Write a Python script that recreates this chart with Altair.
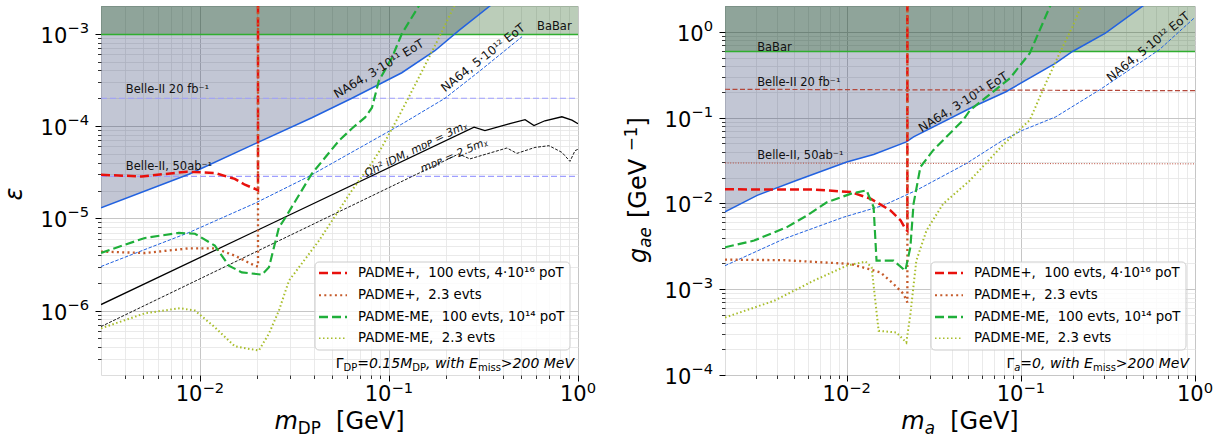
import math
import altair as alt
import pandas as pd

FONT = "DejaVu Sans"

# ===================== left panel: dark photon =====================
DP_X_DOMAIN = [0.003, 1.0]
DP_Y_DOMAIN = [2e-7, 2e-3]
DP_BABAR = 9.8e-4
DP_BELLE20 = 2.0e-4
DP_BELLE50 = 2.85e-5

DP_NA64_X = [0.003, 0.00875, 0.0195, 0.0391, 0.0637, 0.117, 0.175, 0.234, 0.342, 0.6, 1.0]
DP_NA64_Y = [1.30e-5, 3.0e-5, 6.4e-5, 1.23e-4, 2.0e-4, 3.78e-4, 6.55e-4, 1.08e-3, 2.0e-3, 5.5e-3, 1.5e-2]

DP_NA64B_X = [0.003, 0.00557, 0.00875, 0.0195, 0.0378, 0.117, 0.198, 0.30, 0.506]
DP_NA64B_Y = [3.0e-6, 4.9e-6, 7.0e-6, 1.45e-5, 2.85e-5, 1.05e-4, 2.0e-4, 3.9e-4, 9.3e-4]

DP_P100_X = [0.003, 0.00493, 0.00853, 0.012, 0.0153, 0.0173, 0.0195, 0.0203, 0.0203]
DP_P100_Y = [2.96e-5, 2.84e-5, 3.2e-5, 3.1e-5, 2.67e-5, 2.31e-5, 2.09e-5, 2.0e-5, 1e-2]

DP_P23_X = [0.003, 0.00512, 0.00875, 0.012, 0.0153, 0.0195, 0.0203, 0.0203]
DP_P23_Y = [4.35e-6, 4.2e-6, 4.72e-6, 4.72e-6, 3.94e-6, 3.06e-6, 3.0e-6, 1e-2]

DP_ME100_X = [0.003, 0.00512, 0.00774, 0.00942, 0.012, 0.01423, 0.01667, 0.0213, 0.0232,
              0.0262, 0.0282, 0.0391, 0.0544, 0.0637, 0.0748, 0.0813, 0.0885, 0.1037, 0.117, 0.146]
DP_ME100_Y = [4.21e-6, 6.12e-6, 6.94e-6, 6.8e-6, 5.05e-6, 3.06e-6, 2.59e-6, 2.45e-6, 2.94e-6,
              7.96e-6, 1.0e-5, 3.04e-5, 6.93e-5, 9.4e-5, 1.24e-4, 1.58e-4, 3.1e-4, 5.5e-4, 1.0e-3, 2.1e-3]

DP_ME23_X = [0.003, 0.00512, 0.00783, 0.00942, 0.012, 0.0153, 0.0205, 0.0232, 0.0262, 0.0296,
             0.0426, 0.0637, 0.0813, 0.0918, 0.117, 0.144, 0.184, 0.224]
DP_ME23_Y = [6.41e-7, 9.33e-7, 1.06e-6, 1.0e-6, 6.58e-7, 4.09e-7, 3.68e-7, 5.62e-7, 1.0e-6, 2.11e-6,
             5.7e-6, 2.0e-5, 4.0e-5, 5.9e-5, 1.47e-4, 3.36e-4, 9.1e-4, 2.1e-3]

DP_IDM3_X = [0.003, 0.282, 0.322, 0.436, 0.525, 0.585, 0.668, 0.822, 0.929, 1.0]
DP_IDM3_Y = [1.16e-6, 9.7e-5, 8.9e-5, 1.06e-4, 1.17e-4, 1.01e-4, 1.14e-4, 1.26e-4, 1.16e-4, 1.06e-4]

DP_IDM25_X = [0.003, 0.234, 0.268, 0.421, 0.475, 0.592, 0.702, 0.822, 0.907, 0.964, 1.0]
DP_IDM25_Y = [6.7e-7, 4.98e-5, 4.40e-5, 5.78e-5, 5.05e-5, 5.86e-5, 6.12e-5, 5.18e-5, 4.14e-5, 5.4e-5, 5.6e-5]

# ===================== right panel: ALP =====================
A_X_DOMAIN = [0.002, 1.0]
A_Y_DOMAIN = [1e-4, 2.0]
A_BABAR = 0.59
A_BELLE20_Y = [0.214, 0.206]
A_BELLE50_Y = [0.0296, 0.0289]

A_NA64_X = [0.002, 0.00306, 0.00518, 0.01, 0.01427, 0.0220, 0.0242, 0.0532, 0.0821, 0.1585, 0.198, 0.306, 0.498, 1.0]
A_NA64_Y = [0.0080, 0.0124, 0.0186, 0.0304, 0.0371, 0.0521, 0.0597, 0.1337, 0.2003, 0.431, 0.59, 0.965, 1.98, 5.0]

A_NA64B_X = [0.002, 0.00436, 0.00961, 0.01625, 0.0251, 0.0485, 0.0789, 0.1027, 0.1585, 0.2826, 0.622, 0.99]
A_NA64B_Y = [0.00188, 0.00386, 0.00692, 0.00948, 0.0142, 0.0291, 0.0546, 0.0714, 0.102, 0.21, 0.616, 1.45]

A_P100_X = [0.002, 0.00648, 0.01054, 0.0137, 0.01783, 0.0204, 0.0217, 0.0223, 0.0223]
A_P100_Y = [0.0146, 0.0145, 0.01355, 0.01135, 0.00828, 0.00633, 0.00506, 0.0048, 5.0]

A_P23_X = [0.002, 0.00436, 0.01054, 0.01563, 0.01858, 0.0212, 0.0223, 0.0223]
A_P23_Y = [0.00221, 0.00218, 0.00197, 0.00157, 0.00115, 8.8e-4, 7.0e-4, 5.0]

A_ME100_X = [0.002, 0.00294, 0.00454, 0.0059, 0.00769, 0.0106, 0.0130, 0.01427, 0.01483, 0.01858,
             0.0217, 0.0232, 0.0242, 0.0265, 0.0314, 0.0358, 0.0466, 0.0511, 0.0865, 0.1125, 0.1284, 0.1484]
A_ME100_Y = [0.00308, 0.00369, 0.0053, 0.0072, 0.0103, 0.0130, 0.0142, 0.00906, 0.00215, 0.00215,
             0.00164, 0.00308, 0.0099, 0.0266, 0.0417, 0.0546, 0.0935, 0.1224, 0.287, 0.563, 1.05, 2.07]

A_ME23_X = [0.002, 0.00383, 0.00648, 0.01, 0.01285, 0.0139, 0.01525, 0.0193, 0.0220, 0.0232, 0.0251,
            0.0287, 0.0358, 0.0511, 0.0789, 0.1125, 0.139, 0.167, 0.198, 0.226]
A_ME23_Y = [4.68e-4, 7.33e-4, 1.26e-3, 1.88e-3, 2.1e-3, 1.8e-3, 3.27e-4, 3.13e-4, 2.39e-4, 5.1e-4, 2.15e-3,
            4.83e-3, 9.9e-3, 0.0186, 0.048, 0.0935, 0.251, 0.563, 1.15, 2.16]

# ===================== legend / series names =====================
NB = "\u00a0"
S1 = "PADME+," + NB * 2 + "100 evts, 4·10¹⁶ poT"
S2 = "PADME+," + NB * 2 + "2.3 evts"
S3 = "PADME-ME," + NB * 2 + "100 evts, 10¹⁴ poT"
S4 = "PADME-ME," + NB * 2 + "2.3 evts"
SERIES = [S1, S2, S3, S4]
SERIES_COLORS = ["#e8100c", "#c55a2a", "#1faf3a", "#a8bd2a"]
SERIES_DASH = [[9, 4], [2, 3.3], [9, 4], [1.5, 2.5]]
SERIES_WIDTH = [2.5, 2.0, 2.5, 1.6]

BLUE = "#2262e0"
NA64_FILL = "#0b1a55"
BABAR_FILL = "#0a4a05"
BABAR_LINE = "#2fae2f"

# ===================== helpers =====================
LOGV = "(log(datum.value)/LN10)"
MAJOR = f"abs({LOGV} - round({LOGV})) < 1e-6"

W = {' ': .318, NB: .318, ',': .318, '.': .318, '=': .838, '>': .838, '[': .390, ']': .390,
     'G': .775, 'e': .615, 'V': .684, 'm': .974, 'D': .770, 'P': .603, 'M': .863, 'E': .632,
     'a': .613, 'i': .278, 's': .521, 'w': .818, 't': .392, 'h': .634, 'Γ': .557, '−': .838,
     'g': .635}
for d in "0123456789":
    W[d] = .636


def tw(t, s):
    return sum(W.get(c, .6) for c in t) * s


def ticks_in(lo, hi):
    out = []
    for e in range(-9, 2):
        for k in range(1, 10):
            v = k * 10.0 ** e
            if lo * 1.0001 < v < hi / 1.0001 or (k == 1 and lo * 0.9999 <= v <= hi * 1.0001):
                out.append(v)
    return out


def majors_in(lo, hi):
    return [10.0 ** e for e in range(-9, 2) if lo * 0.9999 <= 10.0 ** e <= hi * 1.0001]


def make_axis(values, orient):
    return alt.Axis(
        values=values, labels=False, orient=orient, title=None,
        grid=True,
        gridColor={"condition": {"test": MAJOR, "value": "#c6c6c6"}, "value": "#e4e4e4"},
        gridWidth={"condition": {"test": MAJOR, "value": 1.0}, "value": 0.8},
        tickColor="black",
        tickSize={"condition": {"test": MAJOR, "value": 6}, "value": 3.5},
        tickWidth={"condition": {"test": MAJOR, "value": 1.0}, "value": 0.8},
        domain=False,
    )


ONE = pd.DataFrame({"x": [1.0], "y": [1.0]})


def txt(text, size, style="normal", align="left", baseline="alphabetic", dx=0, dy=0, angle=None, color="black"):
    kw = {"angle": angle} if angle is not None else {}
    return dict(text=text, fontSize=size, fontStyle=style, font=FONT, align=align,
                baseline=baseline, dx=dx, dy=dy, color=color, **kw)


def pieces(parts, y, x_center=None, x_right=None):
    widths = [tw(t, s) for t, s, st, dy in parts]
    total = sum(widths)
    x = x_center - total / 2 if x_center is not None else x_right - total
    out = []
    for (t, s, st, dy), w in zip(parts, widths):
        out.append(alt.Chart(ONE).mark_text(**txt(t, s, st, dy=dy)).encode(x=alt.value(x), y=alt.value(y)))
        x += w
    return out


def vpieces(parts, x, y_start):
    """Text pieces rotated to read bottom-to-top, starting at y_start."""
    out = []
    y = y_start
    for (t, s, st, dy) in parts:
        out.append(alt.Chart(ONE).mark_text(**txt(t, s, st, dy=dy, angle=270))
                   .encode(x=alt.value(x), y=alt.value(y)))
        y -= tw(t, s)
    return out


def sup_of(v):
    e = int(round(math.log10(v)))
    return ("−" + str(-e)) if e < 0 else str(e)


def tick_labels(X, Y, xmaj, ymaj, H):
    out = []
    w10 = tw("10", 21)
    for v in xmaj:
        s = sup_of(v)
        tot = w10 + tw(s, 14.7)
        d = pd.DataFrame({"x": [v], "y": [1.0]})
        out.append(alt.Chart(d).mark_text(**txt("10", 21, dx=-tot / 2)).encode(x=X, y=alt.value(H + 26)))
        out.append(alt.Chart(d).mark_text(**txt(s, 14.7, dx=-tot / 2 + w10)).encode(x=X, y=alt.value(H + 18)))
    for v in ymaj:
        s = sup_of(v)
        ws = tw(s, 14.7)
        d = pd.DataFrame({"x": [1.0], "y": [v]})
        out.append(alt.Chart(d).mark_text(**txt("10", 21, align="right", dx=-12 - ws, dy=9)).encode(x=alt.value(0), y=Y))
        out.append(alt.Chart(d).mark_text(**txt(s, 14.7, align="right", dx=-12, dy=-1)).encode(x=alt.value(0), y=Y))
    return out


def legend_layers(x0, y0):
    out = [alt.Chart(ONE).mark_rect(fill="white", fillOpacity=0.8, stroke="#cccccc", strokeWidth=1,
                                    cornerRadius=4)
           .encode(x=alt.value(x0), x2=alt.value(x0 + 255), y=alt.value(y0), y2=alt.value(y0 + 88))]
    rows = [11, 33.3, 55, 76.3]
    for name, col, dash, sw, r in zip(SERIES, SERIES_COLORS, SERIES_DASH, SERIES_WIDTH, rows):
        out.append(alt.Chart(ONE).mark_rule(color=col, strokeDash=dash, strokeWidth=sw)
                   .encode(x=alt.value(x0 + 4), x2=alt.value(x0 + 32), y=alt.value(y0 + r)))
        out.append(alt.Chart(ONE).mark_text(**txt(name, 13.3, baseline="middle"))
                   .encode(x=alt.value(x0 + 43), y=alt.value(y0 + r)))
    return out


def line_df(xs, ys):
    return pd.DataFrame({"x": xs, "y": ys, "i": list(range(len(xs)))})


def panel(cfg):
    xmin, xmax = cfg["xdom"]
    ymin, ymax = cfg["ydom"]
    H = cfg["h"]
    xs = alt.Scale(type="log", domain=cfg["xdom"], nice=False)
    ys = alt.Scale(type="log", domain=cfg["ydom"], nice=False)
    X = alt.X("x:Q", scale=xs, axis=make_axis(ticks_in(xmin, xmax), "bottom"))
    Y = alt.Y("y:Q", scale=ys, axis=make_axis(ticks_in(ymin, ymax), "left"))
    top = cfg["top"]

    layers = []
    na = line_df(cfg["na64_x"], cfg["na64_y"])
    na["top"] = top
    layers.append(alt.Chart(na).mark_area(color=NA64_FILL, opacity=0.25, clip=True)
                  .encode(x=X, y=Y, y2="top:Q"))
    bb = pd.DataFrame({"x": [xmin, xmax], "y": [cfg["babar"]] * 2, "top": [top, top]})
    layers.append(alt.Chart(bb).mark_area(color=BABAR_FILL, opacity=0.28, clip=True)
                  .encode(x=X, y=Y, y2="top:Q"))
    layers.append(alt.Chart(bb).mark_line(color=BABAR_LINE, strokeWidth=1.5, clip=True)
                  .encode(x=X, y=Y))
    for (yy, col, dash, sw) in cfg["belle"]:
        d = pd.DataFrame({"x": [xmin, xmax], "y": yy})
        layers.append(alt.Chart(d).mark_line(color=col, strokeDash=dash, strokeWidth=sw, clip=True)
                      .encode(x=X, y=Y))
    layers.append(alt.Chart(na).mark_line(color=BLUE, strokeWidth=1.5, clip=True)
                  .encode(x=X, y=Y, order="i:Q"))
    layers.append(alt.Chart(line_df(cfg["na64b_x"], cfg["na64b_y"]))
                  .mark_line(color=BLUE, strokeWidth=1.0, strokeDash=[3.5, 1.6], clip=True)
                  .encode(x=X, y=Y, order="i:Q"))
    for (lx, ly, dash, sw) in cfg.get("extra", []):
        kw = {"strokeDash": dash} if dash else {}
        layers.append(alt.Chart(line_df(lx, ly)).mark_line(color="black", strokeWidth=sw, clip=True, **kw)
                      .encode(x=X, y=Y, order="i:Q"))
    frames = []
    for name, (sx, sy) in zip(SERIES, cfg["series"]):
        f = line_df(sx, sy)
        f["series"] = name
        frames.append(f)
    sd = pd.concat(frames, ignore_index=True)
    layers.append(alt.Chart(sd).mark_line(clip=True).encode(
        x=X, y=Y, order="i:Q", detail="series:N",
        color=alt.Color("series:N", scale=alt.Scale(domain=SERIES, range=SERIES_COLORS), legend=None),
        strokeDash=alt.StrokeDash("series:N", scale=alt.Scale(domain=SERIES, range=SERIES_DASH), legend=None),
        strokeWidth=alt.StrokeWidth("series:N", scale=alt.Scale(domain=SERIES, range=SERIES_WIDTH), legend=None),
    ))
    for (tx, ty, t, ang, fs, st, al, bl) in cfg["labels"]:
        d = pd.DataFrame({"x": [tx], "y": [ty]})
        layers.append(alt.Chart(d).mark_text(**txt(t, fs, st, align=al, baseline=bl,
                                                   angle=ang if ang else None, color="#111111"))
                      .encode(x=X, y=Y))
    layers += legend_layers(cfg["legx"], cfg["legy"])
    layers += tick_labels(X, Y, majors_in(xmin, xmax), majors_in(ymin, ymax), H)
    layers += cfg["decor"]
    return alt.layer(*layers).properties(width=cfg["w"], height=H)


H = 369
LW, RW = 477, 470
TF = 24     # axis-title font size
TS = 16.8   # axis-title sub/superscript size

left_cfg = dict(
    xdom=DP_X_DOMAIN, ydom=DP_Y_DOMAIN, top=1e-2, babar=DP_BABAR,
    na64_x=DP_NA64_X, na64_y=DP_NA64_Y, na64b_x=DP_NA64B_X, na64b_y=DP_NA64B_Y,
    belle=[([DP_BELLE20, DP_BELLE20], "#9f9fff", [6, 3], 1.2),
           ([DP_BELLE50, DP_BELLE50], "#9f9fff", [6, 3], 1.2)],
    extra=[(DP_IDM3_X, DP_IDM3_Y, None, 1.3), (DP_IDM25_X, DP_IDM25_Y, [3, 1.5], 0.9)],
    series=[(DP_P100_X, DP_P100_Y), (DP_P23_X, DP_P23_Y), (DP_ME100_X, DP_ME100_Y), (DP_ME23_X, DP_ME23_Y)],
    legx=214, legy=256,
    labels=[
        (0.00406, 2.3e-4, "Belle-II 20 fb⁻¹", 0, 11.5, "normal", "left", "alphabetic"),
        (0.00406, 3.3e-5, "Belle-II, 50ab⁻¹", 0, 11.5, "normal", "left", "alphabetic"),
        (0.607, 1.10e-3, "BaBar", 0, 11.5, "normal", "left", "alphabetic"),
        (0.0885, 4.18e-4, "NA64, 3·10¹¹ EoT", 329, 12, "normal", "center", "middle"),
        (0.314, 5.5e-4, "NA64, 5·10¹² EoT", 322, 12, "normal", "center", "middle"),
        (0.139, 5.53e-5, "Ωh² iDM, mᴅᴘ = 3mᵪ", 334, 11, "italic", "center", "middle"),
        (0.221, 4.76e-5, "mᴅᴘ = 2.5mᵪ", 337, 11, "italic", "center", "middle"),
    ],
    decor=pieces([("m", TF, "italic", 0), ("DP", TS, "normal", 5), (NB * 2, TF, "normal", 0),
                  ("[GeV]", TF, "normal", 0)], y=423, x_center=LW / 2)
    + pieces([("Γ", 14, "normal", 0), ("DP", 10, "normal", 3), ("=0.15", 14, "italic", 0),
              ("M", 14, "italic", 0), ("DP", 10, "normal", 3), ("," + NB + "with" + NB, 14, "italic", 0),
              ("E", 14, "italic", 0), ("miss", 10, "normal", 3), (">200" + NB + "MeV", 14, "italic", 0)],
             y=362, x_right=473)
    + [alt.Chart(ONE).mark_text(**txt("ε", TF, "italic", align="center", baseline="alphabetic", angle=270))
       .encode(x=alt.value(-79), y=alt.value(188))],
    w=LW, h=H,
)

right_cfg = dict(
    xdom=A_X_DOMAIN, ydom=A_Y_DOMAIN, top=5.0, babar=A_BABAR,
    na64_x=A_NA64_X, na64_y=A_NA64_Y, na64b_x=A_NA64B_X, na64b_y=A_NA64B_Y,
    belle=[(A_BELLE20_Y, "#b4473a", [5, 2.5], 1.2),
           (A_BELLE50_Y, "#b84a3a", [1, 1.6], 1.0)],
    series=[(A_P100_X, A_P100_Y), (A_P23_X, A_P23_Y), (A_ME100_X, A_ME100_Y), (A_ME23_X, A_ME23_Y)],
    legx=206, legy=256,
    labels=[
        (0.00306, 0.60, "BaBar", 0, 11.5, "normal", "left", "alphabetic"),
        (0.00306, 0.232, "Belle-II 20 fb⁻¹", 0, 11.5, "normal", "left", "alphabetic"),
        (0.00306, 0.0327, "Belle-II, 50ab⁻¹", 0, 11.5, "normal", "left", "alphabetic"),
        (0.0466, 0.152, "NA64, 3·10¹¹ EoT", 328, 12, "normal", "center", "middle"),
        (0.538, 0.668, "NA64, 5·10¹² EoT", 321, 12, "normal", "center", "middle"),
    ],
    decor=pieces([("m", TF, "italic", 0), ("a", TS, "italic", 5), (NB * 2, TF, "normal", 0),
                  ("[GeV]", TF, "normal", 0)], y=423, x_center=RW / 2)
    + pieces([("Γ", 14, "normal", 0), ("a", 10, "italic", 3), ("=0," + NB + "with" + NB, 14, "italic", 0),
              ("E", 14, "italic", 0), ("miss", 10, "normal", 3), (">200" + NB + "MeV", 14, "italic", 0)],
             y=362, x_right=464)
    + vpieces([("g", TF, "italic", 0), ("ae", TS, "italic", 5)], x=-79, y_start=257)
    + vpieces([("[GeV" + NB, TF, "normal", 0), ("−1", TS, "normal", -9), ("]", TF, "normal", 0)],
              x=-79, y_start=212),
    w=RW, h=H,
)

chart = alt.hconcat(panel(left_cfg), panel(right_cfg), spacing=26).resolve_scale(
    x="independent", y="independent", color="independent",
    strokeDash="independent", strokeWidth="independent",
).properties(
    padding={"left": 2, "top": 5, "right": 5, "bottom": 0},
    background="white",
).configure_view(stroke="black", strokeWidth=1).configure(font=FONT)

chart.save("out.html", embed_options={"renderer": "svg", "actions": False})
